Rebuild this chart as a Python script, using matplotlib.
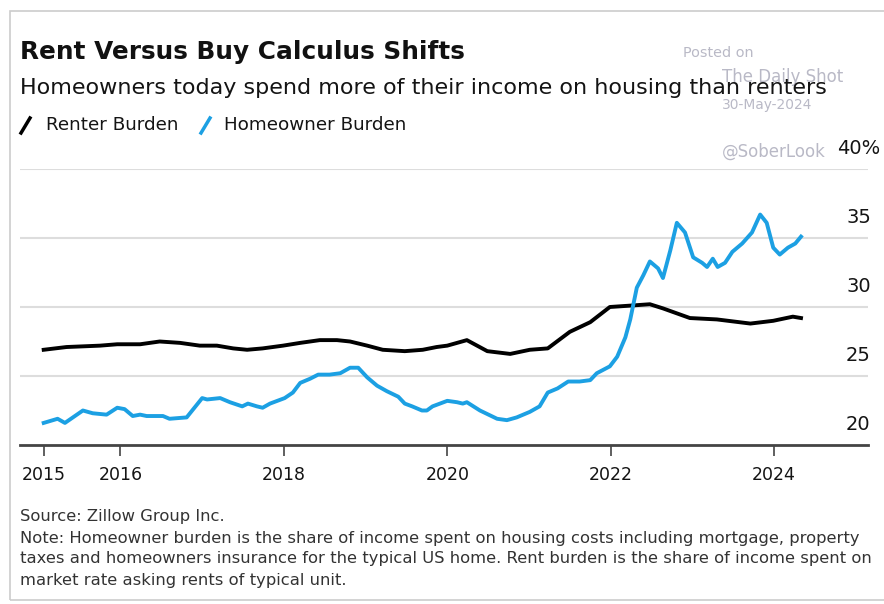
import matplotlib
matplotlib.use('Agg')
import matplotlib.pyplot as plt
from matplotlib.patches import Rectangle
from matplotlib.lines import Line2D
from matplotlib.transforms import blended_transform_factory

plt.rcParams['font.family'] = ['DejaVu Sans']

# data (decimal year, % of income)
renter_x = [2015.06, 2015.34, 2015.75, 2015.96, 2016.24, 2016.48, 2016.73, 2016.97,
            2017.18, 2017.38, 2017.55, 2017.74, 2017.99, 2018.20, 2018.44, 2018.65,
            2018.81, 2019.02, 2019.21, 2019.48, 2019.70, 2019.87, 2020.00, 2020.24,
            2020.49, 2020.77, 2021.01, 2021.23, 2021.50, 2021.75, 2021.99, 2022.24,
            2022.48, 2022.64, 2022.97, 2023.30, 2023.71, 2023.99, 2024.23, 2024.33]
renter_y = [26.9, 27.1, 27.2, 27.3, 27.3, 27.5, 27.4, 27.2,
            27.2, 27.0, 26.9, 27.0, 27.2, 27.4, 27.6, 27.6,
            27.5, 27.2, 26.9, 26.8, 26.9, 27.1, 27.2, 27.6,
            26.8, 26.6, 26.9, 27.0, 28.2, 28.9, 30.0, 30.1,
            30.2, 29.9, 29.2, 29.1, 28.8, 29.0, 29.3, 29.2]

owner_x = [2015.06, 2015.23, 2015.32, 2015.54, 2015.66, 2015.83, 2015.96, 2016.05,
           2016.15, 2016.24, 2016.32, 2016.52, 2016.60, 2016.81, 2017.00, 2017.06,
           2017.22, 2017.34, 2017.49, 2017.56, 2017.67, 2017.74, 2017.83, 2018.01,
           2018.11, 2018.20, 2018.32, 2018.42, 2018.56, 2018.69, 2018.81, 2018.91,
           2019.02, 2019.14, 2019.26, 2019.40, 2019.48, 2019.57, 2019.69, 2019.75,
           2019.82, 2020.00, 2020.12, 2020.19, 2020.24, 2020.40, 2020.61, 2020.73,
           2020.85, 2021.01, 2021.13, 2021.23, 2021.35, 2021.48, 2021.62, 2021.75,
           2021.83, 2021.99, 2022.08, 2022.18, 2022.24, 2022.32, 2022.40, 2022.48,
           2022.58, 2022.64, 2022.73, 2022.81, 2022.91, 2023.01, 2023.12, 2023.18,
           2023.25, 2023.31, 2023.40, 2023.49, 2023.61, 2023.73, 2023.83, 2023.91,
           2023.99, 2024.07, 2024.17, 2024.26, 2024.33]
owner_y = [21.6, 21.9, 21.6, 22.5, 22.3, 22.2, 22.7, 22.6,
           22.1, 22.2, 22.1, 22.1, 21.9, 22.0, 23.4, 23.3,
           23.4, 23.1, 22.8, 23.0, 22.8, 22.7, 23.0, 23.4,
           23.8, 24.5, 24.8, 25.1, 25.1, 25.2, 25.6, 25.6,
           24.9, 24.3, 23.9, 23.5, 23.0, 22.8, 22.5, 22.5,
           22.8, 23.2, 23.1, 23.0, 23.1, 22.5, 21.9, 21.8,
           22.0, 22.4, 22.8, 23.8, 24.1, 24.6, 24.6, 24.7,
           25.2, 25.7, 26.4, 27.8, 29.1, 31.4, 32.3, 33.3,
           32.8, 32.1, 34.1, 36.1, 35.4, 33.6, 33.2, 32.9,
           33.5, 32.9, 33.2, 34.0, 34.6, 35.4, 36.7, 36.1,
           34.3, 33.8, 34.3, 34.6, 35.1]

x_ticks = [2015.06, 2016, 2018, 2020, 2022, 2024]
x_labels = ['2015', '2016', '2018', '2020', '2022', '2024']
y_ticks = [20, 25, 30, 35, 40]
y_labels = ['20', '25', '30', '35', '40%']

W, H = 884, 604
BLUE = '#1ca0e3'
TXT = '#141414'


def fx(px):
    return px / W


def fy(py):
    return 1 - py / H


fig = plt.figure(figsize=(W / 100, H / 100), dpi=100)
fig.patches.append(Rectangle((fx(10), fy(600)), 1.0, fy(11) - fy(600), transform=fig.transFigure,
                             fill=False, edgecolor='#cccccc', linewidth=1.2))

ax = fig.add_axes([fx(20), fy(445), fx(868) - fx(20), fy(169) - fy(445)])
ax.set_xlim(2014.77, 2025.15)
ax.set_ylim(20, 40)

for v in y_ticks[1:]:
    ax.axhline(v, color='#dddddd', linewidth=1.5, zorder=0)

ax.plot(renter_x, renter_y, color='black', linewidth=2.8, zorder=3)
ax.plot(owner_x, owner_y, color=BLUE, linewidth=2.8, zorder=4)

for s in ['top', 'right', 'left']:
    ax.spines[s].set_visible(False)
ax.spines['bottom'].set_color('#444444')
ax.spines['bottom'].set_linewidth(2)
ax.set_yticks([])
ax.set_xticks(x_ticks)
ax.set_xticklabels(x_labels, fontsize=12.5, color=TXT)
ax.tick_params(axis='x', direction='out', length=8, width=1.2, color='#444444', pad=7)

trans = blended_transform_factory(ax.transAxes, ax.transData)
for v, lab in zip(y_ticks, y_labels):
    xpos = (837 - 20) / 848 if lab.endswith('%') else (846 - 20) / 848
    ax.text(xpos, v + 1.45, lab, transform=trans, ha='left', va='center',
            fontsize=14, color=TXT)

# watermark (behind the header text)
wm = '#b9b9c6'
fig.text(fx(683), fy(53), 'Posted on', fontsize=10.4, color=wm, va='center', zorder=0)
fig.text(fx(722), fy(77), 'The Daily Shot', fontsize=12, color=wm, va='center', zorder=0)
fig.text(fx(722), fy(105), '30-May-2024', fontsize=9.9, color=wm, va='center', zorder=0)
fig.text(fx(722), fy(152), '@SoberLook', fontsize=12, color=wm, va='center', zorder=0)

# header
fig.text(fx(20), fy(52), 'Rent Versus Buy Calculus Shifts', fontsize=17.8, fontweight='bold',
         color='#111111', va='center', ha='left', zorder=2)
fig.text(fx(20), fy(88), 'Homeowners today spend more of their income on housing than renters',
         fontsize=16, color=TXT, va='center', ha='left', zorder=2)
fig.add_artist(Line2D([fx(21), fx(30)], [fy(133), fy(118)], color='black', linewidth=2.5))
fig.text(fx(46), fy(125), 'Renter Burden', fontsize=13.2, color=TXT, va='center')
fig.add_artist(Line2D([fx(201), fx(210)], [fy(133), fy(118)], color=BLUE, linewidth=2.5))
fig.text(fx(224), fy(125), 'Homeowner Burden', fontsize=13.2, color=TXT, va='center')

# footer
foot = ['Source: Zillow Group Inc.',
        'Note: Homeowner burden is the share of income spent on housing costs including mortgage, property',
        'taxes and homeowners insurance for the typical US home. Rent burden is the share of income spent on',
        'market rate asking rents of typical unit.']
for py, line in zip([517, 538, 559, 580], foot):
    fig.text(fx(20), fy(py), line, fontsize=11.8, color='#333333', va='center')

fig.savefig('out.png', dpi=100)
